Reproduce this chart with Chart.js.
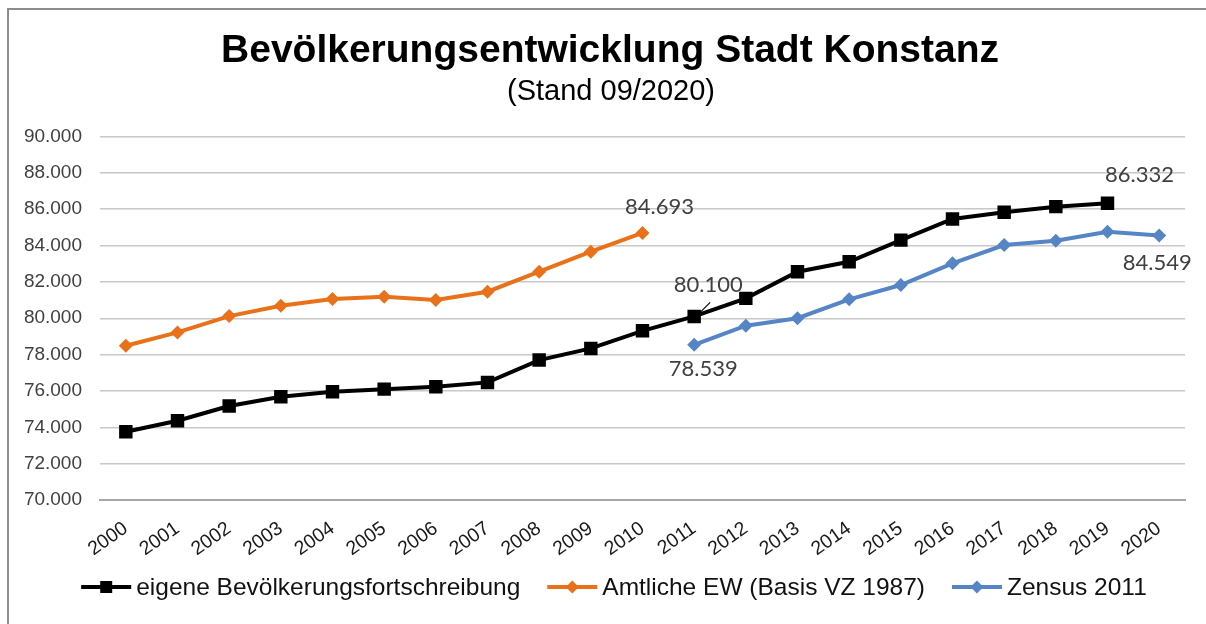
<!DOCTYPE html>
<html><head><meta charset="utf-8">
<script src="https://cdn.jsdelivr.net/npm/chart.js@4.4.1/dist/chart.umd.min.js"></script>
<style>html,body{margin:0;padding:0;background:#fff;overflow:hidden}#wrap{position:absolute;left:0;top:0;width:1206px;height:624px}</style>
</head><body><div id="wrap"><canvas id="c" width="1206" height="624"></canvas></div>
<script>
const years = ['2000','2001','2002','2003','2004','2005','2006','2007','2008','2009','2010','2011','2012','2013','2014','2015','2016','2017','2018','2019','2020'];
const eigene = [73754, 74360, 75170, 75680, 75955, 76100, 76230, 76470, 77700, 78340, 79310, 80100, 81095, 82560, 83110, 84300, 85460, 85830, 86140, 86332, null];
const amtlich = [78490, 79220, 80120, 80690, 81060, 81180, 81000, 81460, 82560, 83660, 84693, null, null, null, null, null, null, null, null, null, null];
const zensus = [null, null, null, null, null, null, null, null, null, null, null, 78539, 79590, 80000, 81040, 81830, 83020, 84030, 84270, 84760, 84549];
const seriesNames = ['eigene Bevölkerungsfortschreibung', 'Amtliche EW (Basis VZ 1987)', 'Zensus 2011'];
const yMin = 70000, yMax = 90000, yStep = 2000;
const titleText = 'Bevölkerungsentwicklung Stadt Konstanz';
const subtitleText = '(Stand 09/2020)';

const fmt = v => v.toLocaleString('de-DE');

const frame = {
  id: 'frame',
  beforeDraw(chart) {
    const ctx = chart.ctx;
    ctx.save();
    ctx.fillStyle = '#fff';
    ctx.fillRect(0, 0, chart.width, chart.height);
    ctx.strokeStyle = '#8c8c8c';
    ctx.lineWidth = 2;
    ctx.beginPath();
    ctx.moveTo(8, chart.height + 5);
    ctx.lineTo(8, 9);
    ctx.lineTo(chart.width + 5, 9);
    ctx.stroke();
    ctx.restore();
  }
};

const titles = {
  id: 'titles',
  afterDraw(chart, args, opts) {
    const ctx = chart.ctx;
    ctx.save();
    ctx.fillStyle = '#000';
    ctx.textAlign = 'center';
    ctx.textBaseline = 'alphabetic';
    ctx.font = 'bold 39px "Liberation Sans", Arial, sans-serif';
    ctx.fillText(opts.title, 610, 62);
    ctx.font = '29px "Liberation Sans", Arial, sans-serif';
    ctx.fillText(opts.subtitle, 611, 100);
    ctx.restore();
  }
};

function drawMarker(ctx, style, x, y, r, color) {
  ctx.fillStyle = color;
  ctx.beginPath();
  if (style === 'rect') {
    ctx.rect(x - r, y - r, 2 * r, 2 * r);
  } else {
    ctx.moveTo(x - r, y); ctx.lineTo(x, y - r); ctx.lineTo(x + r, y); ctx.lineTo(x, y + r); ctx.closePath();
  }
  ctx.fill();
}

const customLegend = {
  id: 'customLegend',
  afterDraw(chart) {
    const ctx = chart.ctx;
    ctx.save();
    ctx.font = '24.5px "Liberation Sans", Arial, sans-serif';
    ctx.textBaseline = 'middle';
    ctx.textAlign = 'left';
    const y = 587;
    const items = chart.data.datasets.map(ds => ({
      label: ds.label, color: ds.borderColor, style: ds.pointStyle,
      w: 55 + ctx.measureText(ds.label).width
    }));
    const gap = 27;
    const total = items.reduce((s, it) => s + it.w, 0) + gap * (items.length - 1);
    let x = 614 - total / 2;
    items.forEach(it => {
      ctx.strokeStyle = it.color;
      ctx.lineWidth = 4;
      ctx.beginPath(); ctx.moveTo(x, y); ctx.lineTo(x + 50, y); ctx.stroke();
      drawMarker(ctx, it.style, x + 25, y, it.style === 'rect' ? 6 : 6.5, it.color);
      ctx.fillStyle = '#111';
      ctx.fillText(it.label, x + 55, y + 1);
      x += it.w + gap;
    });
    ctx.restore();
  }
};

const dataLabels = {
  id: 'dataLabels',
  afterDatasetsDraw(chart, args, opts) {
    const ctx = chart.ctx;
    ctx.save();
    ctx.font = '22px Lato, "Open Sans", sans-serif';
    ctx.fillStyle = '#404040';
    ctx.textAlign = 'center';
    ctx.textBaseline = 'middle';
    opts.items.forEach(it => {
      const el = chart.getDatasetMeta(it.ds).data[it.i];
      const v = chart.data.datasets[it.ds].data[it.i];
      ctx.fillText(fmt(v), el.x + it.dx, el.y + it.dy);
      if (it.leader) {
        ctx.strokeStyle = '#000';
        ctx.lineWidth = 1.2;
        ctx.beginPath();
        ctx.moveTo(el.x + it.leader[0], el.y + it.leader[1]);
        ctx.lineTo(el.x + it.leader[2], el.y + it.leader[3]);
        ctx.stroke();
      }
    });
    ctx.restore();
  }
};

new Chart(document.getElementById('c'), {
  type: 'line',
  data: {
    labels: years,
    datasets: [
      { label: seriesNames[0], data: eigene, borderColor: '#000000', backgroundColor: '#000000', borderWidth: 4,
        pointStyle: 'rect', pointRadius: 9.5, pointBorderWidth: 0, tension: 0, spanGaps: false },
      { label: seriesNames[1], data: amtlich, borderColor: '#E8711A', backgroundColor: '#E8711A', borderWidth: 4,
        pointStyle: 'rectRot', pointRadius: 7, pointBorderWidth: 0, tension: 0 },
      { label: seriesNames[2], data: zensus, borderColor: '#5585C5', backgroundColor: '#5585C5', borderWidth: 4,
        pointStyle: 'rectRot', pointRadius: 7, pointBorderWidth: 0, tension: 0 }
    ]
  },
  options: {
    responsive: false,
    animation: false,
    devicePixelRatio: 1,
    layout: { padding: { left: 0, right: 21, top: 136.5, bottom: 0 } },
    plugins: {
      legend: { display: false },
      tooltip: { enabled: false },
      title: { display: false },
      titles: { title: titleText, subtitle: subtitleText },
      dataLabels: {
        items: [
          { ds: 1, i: 10, dx: 17, dy: -26 },
          { ds: 0, i: 11, dx: 14, dy: -32, leader: [6, -4, 16, -14] },
          { ds: 2, i: 11, dx: 9, dy: 24 },
          { ds: 0, i: 19, dx: 32, dy: -28 },
          { ds: 2, i: 20, dx: -2, dy: 27 }
        ]
      }
    },
    scales: {
      x: {
        offset: true,
        grid: { display: false, drawTicks: false },
        border: { display: true, color: '#A6A6A6', width: 2 },
        ticks: { autoSkip: false, maxRotation: 35, minRotation: 35, padding: 17, color: '#1a1a1a',
          font: { family: '"Liberation Sans", Arial, sans-serif', size: 19.5 } },
        afterFit(scale) { scale.height = 124; }
      },
      y: {
        min: yMin, max: yMax,
        grid: { color: '#C8C8C8', lineWidth: 1.5, drawTicks: false },
        border: { display: false },
        ticks: { stepSize: yStep, padding: 18, color: '#404040',
          font: { family: '"Liberation Sans", Arial, sans-serif', size: 19 },
          callback: v => fmt(v) },
        afterFit(scale) { scale.width = 100; }
      }
    }
  },
  plugins: [frame, titles, dataLabels, customLegend]
});
</script>
</body></html>
